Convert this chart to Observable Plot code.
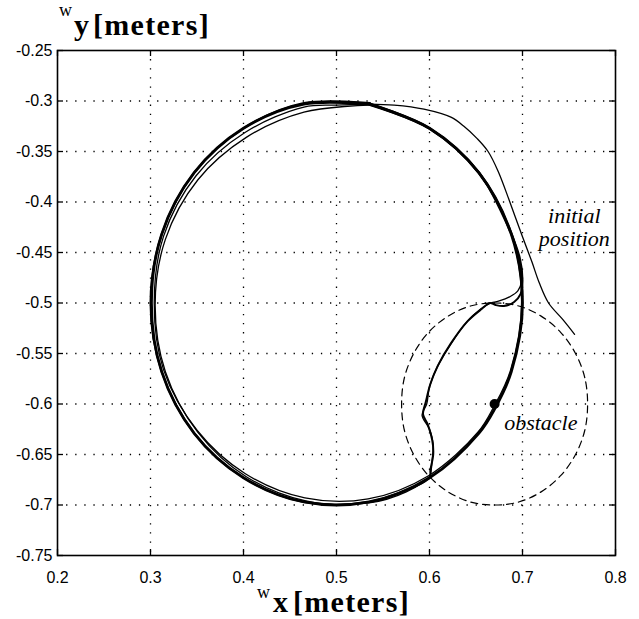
<!DOCTYPE html>
<html>
<head>
<meta charset="utf-8">
<script src="https://cdn.jsdelivr.net/npm/d3@7"></script>
<script src="https://cdn.jsdelivr.net/npm/@observablehq/plot@0.6"></script>
<style>
  html, body { margin: 0; padding: 0; background: #fff; }
  #chart { width: 639px; height: 619px; }
  #chart svg { display: block; }
</style>
</head>
<body>
<div id="chart"></div>
<script>
// ---- ticks ----
const xTicks = [0.2, 0.3, 0.4, 0.5, 0.6, 0.7, 0.8];
const xTickLabels = ["0.2", "0.3", "0.4", "0.5", "0.6", "0.7", "0.8"];
const yTicks = [-0.25, -0.3, -0.35, -0.4, -0.45, -0.5, -0.55, -0.6, -0.65, -0.7, -0.75];
const yTickLabels = ["-0.25", "-0.3", "-0.35", "-0.4", "-0.45", "-0.5", "-0.55", "-0.6", "-0.65", "-0.7", "-0.75"];

// ---- trajectory (wx, wy) ----
const initialApproach = [
  [0.756, -0.531], [0.743, -0.516], [0.728, -0.500], [0.718, -0.480], [0.710, -0.459],
  [0.699, -0.432], [0.686, -0.399], [0.674, -0.370], [0.663, -0.350], [0.651, -0.337],
  [0.637, -0.325], [0.623, -0.316], [0.594, -0.308], [0.562, -0.304], [0.535, -0.303]
];
const loopA = [
  [0.535, -0.303], [0.500, -0.304], [0.465, -0.306], [0.402, -0.331], [0.349, -0.374],
  [0.314, -0.434], [0.304, -0.500], [0.314, -0.566], [0.350, -0.626], [0.402, -0.669],
  [0.466, -0.693], [0.534, -0.694], [0.599, -0.671], [0.652, -0.628], [0.669, -0.603],
  [0.687, -0.567], [0.699, -0.500], [0.688, -0.432], [0.653, -0.372], [0.600, -0.328],
  [0.535, -0.304]
];
const loopB = [
  [0.535, -0.304], [0.465, -0.311], [0.403, -0.336], [0.351, -0.378], [0.316, -0.437],
  [0.305, -0.502], [0.316, -0.568], [0.351, -0.628], [0.403, -0.672], [0.467, -0.696],
  [0.535, -0.698], [0.575, -0.687], [0.600, -0.672], [0.602, -0.664], [0.603, -0.654],
  [0.604, -0.640], [0.600, -0.625], [0.592, -0.611], [0.597, -0.600], [0.600, -0.583],
  [0.608, -0.564], [0.622, -0.542], [0.640, -0.519], [0.655, -0.506], [0.666, -0.500],
  [0.675, -0.498], [0.686, -0.494], [0.695, -0.488], [0.699, -0.478], [0.697, -0.460],
  [0.689, -0.432], [0.654, -0.371], [0.601, -0.327], [0.536, -0.302]
];
const loopC = [
  [0.536, -0.302], [0.465, -0.302], [0.400, -0.327], [0.347, -0.371], [0.312, -0.432],
  [0.300, -0.500], [0.312, -0.568], [0.347, -0.629], [0.400, -0.673], [0.465, -0.697],
  [0.535, -0.697], [0.573, -0.686], [0.600, -0.673], [0.601, -0.665], [0.604, -0.650],
  [0.603, -0.636], [0.598, -0.620], [0.593, -0.610], [0.596, -0.598], [0.601, -0.580],
  [0.609, -0.562], [0.623, -0.540], [0.641, -0.518], [0.656, -0.506], [0.665, -0.500],
  [0.671, -0.502], [0.680, -0.503], [0.691, -0.499], [0.698, -0.491], [0.700, -0.478],
  [0.697, -0.455], [0.688, -0.432], [0.653, -0.371], [0.600, -0.327], [0.535, -0.303]
];
const loopD = [
  [0.535, -0.303], [0.465, -0.303], [0.400, -0.327], [0.347, -0.371], [0.312, -0.432],
  [0.301, -0.500], [0.312, -0.568], [0.347, -0.629], [0.400, -0.673], [0.465, -0.697],
  [0.535, -0.697], [0.600, -0.673], [0.653, -0.629], [0.670, -0.605], [0.688, -0.568],
  [0.700, -0.500], [0.688, -0.432], [0.653, -0.371], [0.600, -0.327], [0.535, -0.303]
];

// ---- obstacle (dashed boundary and centre) ----
const obstacleBoundary = [
  [0.770, -0.600], [0.767, -0.574], [0.757, -0.550], [0.741, -0.529], [0.720, -0.513],
  [0.696, -0.503], [0.670, -0.500], [0.644, -0.503], [0.620, -0.513], [0.599, -0.529],
  [0.583, -0.550], [0.573, -0.574], [0.570, -0.600], [0.573, -0.626], [0.583, -0.650],
  [0.599, -0.671], [0.620, -0.687], [0.644, -0.697], [0.670, -0.700], [0.696, -0.697],
  [0.720, -0.687], [0.741, -0.671], [0.757, -0.650], [0.767, -0.626]
];
const obstacleCenter = [[0.670, -0.600]];

// ---- annotations ----
const annotationInitial = ["initial", "position"];
const annotationObstacle = ["obstacle"];

const sans = "'Liberation Sans', Arial, Helvetica, sans-serif";
const serif = "'Liberation Serif', 'Times New Roman', Times, serif";
const X = d => d[0], Y = d => d[1];

const plot = Plot.plot({
  width: 639,
  height: 619,
  marginTop: 50,
  marginRight: 24,
  marginBottom: 64,
  marginLeft: 57,
  style: { background: "#fff", color: "#000", fontFamily: sans, fontSize: "16px" },
  x: { domain: [0.2, 0.8] },
  y: { domain: [-0.75, -0.25] },
  marks: [
    // dotted grid
    Plot.ruleX(xTicks.slice(1, -1), { stroke: "#000", strokeWidth: 1.3, strokeDasharray: "1.3,7.8" }),
    Plot.ruleY(yTicks.slice(1, -1), { stroke: "#000", strokeWidth: 1.3, strokeDasharray: "1.3,7.8" }),
    // inward ticks on all four sides
    Plot.tickX(xTicks, { stroke: "#000", strokeWidth: 1.3, insetTop: 499 }),
    Plot.tickX(xTicks, { stroke: "#000", strokeWidth: 1.3, insetBottom: 499 }),
    Plot.tickY(yTicks, { stroke: "#000", strokeWidth: 1.3, insetRight: 552 }),
    Plot.tickY(yTicks, { stroke: "#000", strokeWidth: 1.3, insetLeft: 552 }),
    // tick labels
    Plot.axisX(xTicks, {
      anchor: "bottom", tickSize: 0, tickPadding: 16, label: null,
      tickFormat: d => xTickLabels[xTicks.indexOf(d)], fontSize: 16, fontFamily: sans, fill: "#000"
    }),
    Plot.axisY(yTicks, {
      anchor: "left", tickSize: 0, tickPadding: 5, label: null,
      tickFormat: d => yTickLabels[yTicks.indexOf(d)], fontSize: 16, fontFamily: sans, fill: "#000"
    }),
    // obstacle
    Plot.line(obstacleBoundary, { x: X, y: Y, curve: "catmull-rom-closed", stroke: "#000", strokeWidth: 1.2, strokeDasharray: "7,5" }),
    // trajectory
    Plot.line(initialApproach, { x: X, y: Y, curve: "catmull-rom", stroke: "#000", strokeWidth: 1.3 }),
    Plot.line(loopA, { x: X, y: Y, curve: "catmull-rom", stroke: "#000", strokeWidth: 1.3 }),
    Plot.line(loopB, { x: X, y: Y, curve: "catmull-rom", stroke: "#000", strokeWidth: 1.3 }),
    Plot.line(loopC, { x: X, y: Y, curve: "catmull-rom", stroke: "#000", strokeWidth: 2.0 }),
    Plot.line(loopD, { x: X, y: Y, curve: "catmull-rom", stroke: "#000", strokeWidth: 2.8 }),
    Plot.dot(obstacleCenter, { x: X, y: Y, r: 5, fill: "#000", stroke: null }),
    // annotations
    Plot.text([annotationInitial[0]], { x: 0.7557, y: -0.4137, text: d => d, fontFamily: serif, fontStyle: "italic", fontSize: 22, fill: "#000" }),
    Plot.text([annotationInitial[1]], { x: 0.7557, y: -0.4370, text: d => d, fontFamily: serif, fontStyle: "italic", fontSize: 22, fill: "#000" }),
    Plot.text(annotationObstacle, { x: 0.7197, y: -0.6186, text: d => d, fontFamily: serif, fontStyle: "italic", fontSize: 22, fill: "#000" }),
    // frame
    Plot.frame({ stroke: "#000", strokeWidth: 1.6 })
  ]
});

document.getElementById("chart").appendChild(plot);

// axis titles with superscript frame letter
const svg = d3.select(plot);
function axisTitle(wx, wy, ax, ay, bx, by, letter) {
  const t = svg.append("text").attr("fill", "#000").attr("font-family", serif).attr("text-anchor", "start");
  t.append("tspan").attr("x", wx).attr("y", wy).attr("font-size", 18).text("w");
  t.append("tspan").attr("x", ax).attr("y", ay).attr("font-size", 30).attr("font-weight", "bold").text(letter);
  t.append("tspan").attr("x", bx).attr("y", by).attr("font-size", 30).attr("font-weight", "bold")
    .attr("letter-spacing", 1.3).text("[meters]");
}
axisTitle(59, 16, 74, 35, 93, 35, "y");
axisTitle(257, 598, 273, 612, 293, 612, "x");
</script>
</body>
</html>
